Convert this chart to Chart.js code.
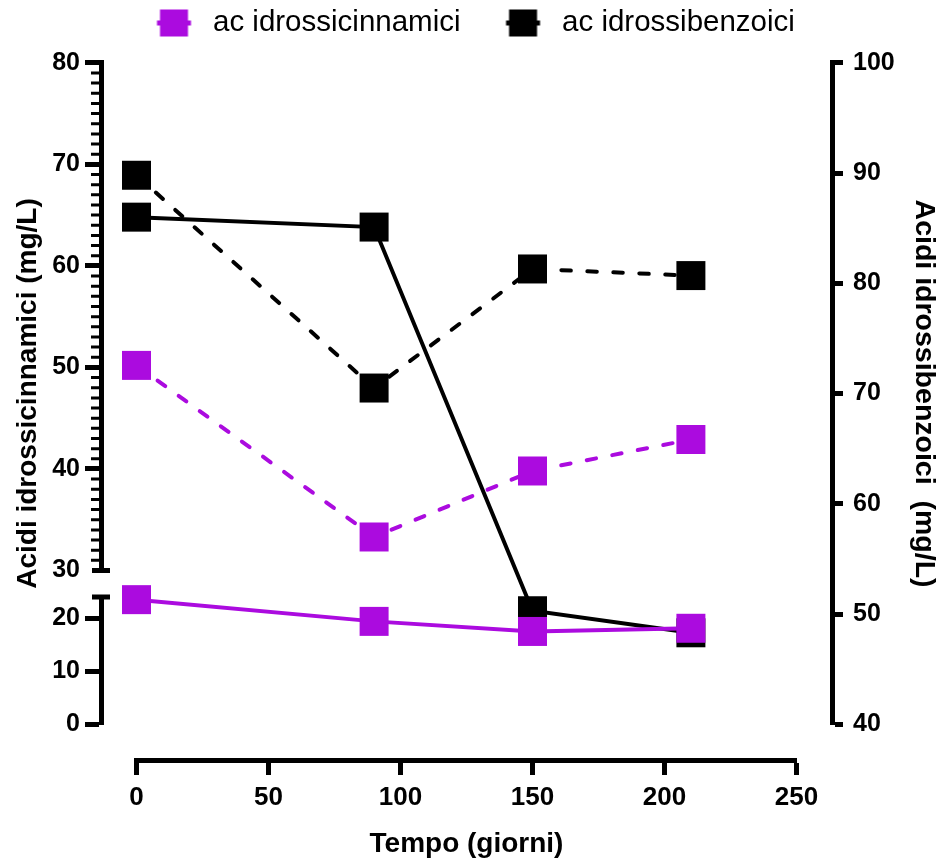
<!DOCTYPE html>
<html lang="it">
<head>
<meta charset="UTF-8">
<title>Acidi idrossicinnamici e idrossibenzoici</title>
<style>
  body { margin: 0; background: #fff; }
  .wrap { width: 942px; height: 861px; }
</style>
</head>
<body>
<div class="wrap"><canvas id="chart"></canvas></div>
<script src="https://cdn.jsdelivr.net/npm/chart.js@4.4.0/dist/chart.umd.min.js"></script>
<script>
// sampling days
const days = [0, 90, 150, 210];

// acidi idrossicinnamici, mg/L (left, broken axis)
const cinnamiciSolid = [23.5, 19.4, 17.5, 18.1];
const cinnamiciDashed = [50.2, 33.3, 39.8, 42.9];

// acidi idrossibenzoici, mg/L (right axis)
const benzoiciSolid = [86.0, 85.1, 50.3, 48.3];
const benzoiciDashed = [89.8, 70.5, 81.3, 80.7];

// tick values
const xTicks = [0, 50, 100, 150, 200, 250];
const leftTopTicks = [30, 40, 50, 60, 70, 80];
const leftBottomTicks = [0, 10, 20];
const leftBottomMax = 24;
const rightTicks = [40, 50, 60, 70, 80, 90, 100];

const labels = ['ac idrossicinnamici', 'ac idrossibenzoici'];
const leftTitle = 'Acidi idrossicinnamici (mg/L)';
const rightTitle = 'Acidi idrossibenzoici  (mg/L)';

const PURPLE = '#ab0bdf';
const FONT = "'Liberation Sans', Arial, sans-serif";

// box sizes of the three axis stacks
const LEFT_W = 101, RIGHT_W = 82.6, BOTTOM_H = 101;

const pts = arr => arr.map((v, i) => ({ x: days[i], y: v }));
const setTicks = list => scale => { scale.ticks = list.map(v => ({ value: v })); };

// legend marker: short line with a square on it
function legendMarker(color) {
  const c = document.createElement('canvas');
  c.width = 79; c.height = 30;
  const g = c.getContext('2d');
  const cx = 54.5, cy = 15;
  g.fillStyle = color;
  g.fillRect(cx - 17, cy - 2.5, 34, 5);
  g.fillRect(cx - 14, cy - 13.5, 28, 27);
  return c;
}
const markers = [legendMarker(PURPLE), legendMarker('#000')];

// empty stacked scale used only to hold space
const spacer = (pos, stack, weight, stackWeight, size) => ({
  type: 'linear', position: pos, stack, weight, stackWeight,
  min: 0, max: 1,
  afterFit: s => { if (pos === 'bottom') s.height = size; else s.width = size; },
  grid: { display: false, drawTicks: false },
  border: { display: false },
  ticks: { display: false }
});

const axisGrid = len => ({
  drawOnChartArea: false, tickLength: len, tickWidth: 5, tickColor: '#000'
});
const axisBorder = { display: true, width: 5, color: '#000' };

// minor ticks, break caps and the title of the broken left axis
const brokenAxis = {
  id: 'brokenAxis',
  afterDraw(chart) {
    const { ctx, chartArea, scales } = chart;
    const top = scales.yTop, bot = scales.yBot;
    const x0 = chartArea.left;
    ctx.save();
    ctx.strokeStyle = '#000';
    ctx.lineWidth = 3;
    ctx.beginPath();
    for (let v = top.min + 1; v < top.max; v++) {
      if (v % 10 === 0) continue;
      const y = top.getPixelForValue(v);
      ctx.moveTo(x0 - 10, y);
      ctx.lineTo(x0, y);
    }
    ctx.stroke();

    ctx.lineWidth = 5;
    ctx.beginPath();
    [top.getPixelForValue(top.min), bot.getPixelForValue(bot.max)].forEach(y => {
      ctx.moveTo(x0 - 9, y);
      ctx.lineTo(x0 + 9, y);
    });
    ctx.stroke();

    ctx.fillStyle = '#000';
    ctx.font = 'bold 28px ' + FONT;
    ctx.textAlign = 'center';
    ctx.textBaseline = 'middle';
    ctx.translate(28.5, (top.top + bot.bottom) / 2);
    ctx.rotate(-Math.PI / 2);
    ctx.fillText(leftTitle, 0, 0);
    ctx.restore();
  }
};

const lineSet = (label, data, color, axis, dashed) => ({
  label,
  data: pts(data),
  yAxisID: axis,
  xAxisID: 'x',
  clip: false,
  borderColor: color,
  backgroundColor: color,
  borderWidth: 4,
  borderDash: dashed ? [9.5, 16.5] : [],
  borderCapStyle: dashed ? 'round' : 'butt',
  pointStyle: 'rect',
  pointRadius: 20.5,
  pointHoverRadius: 20.5,
  pointBorderWidth: 0,
  pointBackgroundColor: color,
  tension: 0
});

new Chart(document.getElementById('chart'), {
  type: 'line',
  data: {
    datasets: [
      lineSet(labels[0], cinnamiciSolid, PURPLE, 'yBot', false),
      lineSet(labels[1], benzoiciSolid, '#000', 'y2', false),
      lineSet(labels[0], cinnamiciDashed, PURPLE, 'yTop', true),
      lineSet(labels[1], benzoiciDashed, '#000', 'y2', true)
    ]
  },
  options: {
    responsive: true,
    maintainAspectRatio: false,
    animation: false,
    layout: { padding: { left: 0, right: 27.4, top: 0, bottom: 0 } },
    plugins: {
      tooltip: { enabled: false },
      legend: {
        position: 'top',
        labels: {
          usePointStyle: true,
          pointStyleWidth: 78.5,
          padding: 8.25,
          color: '#000',
          font: { family: FONT, size: 29.5 },
          generateLabels(chart) {
            const items = Chart.defaults.plugins.legend.labels.generateLabels(chart);
            return items.filter(it => it.datasetIndex < 2)
              .map(it => Object.assign(it, { pointStyle: markers[it.datasetIndex] }));
          }
        }
      }
    },
    scales: {
      xPadL: spacer('bottom', 'xs', 1, 35.5, BOTTOM_H),
      x: {
        type: 'linear', position: 'bottom', stack: 'xs', weight: 2, stackWeight: 660,
        min: 0, max: 250,
        afterBuildTicks: setTicks(xTicks),
        afterFit: s => { s.height = BOTTOM_H; },
        grid: axisGrid(15),
        border: axisBorder,
        ticks: { color: '#000', padding: 7, maxRotation: 0, autoSkip: false,
                 font: { family: FONT, size: 26, weight: 'bold' } },
        title: { display: true, text: 'Tempo (giorni)', color: '#000',
                 padding: { top: 0, bottom: 0 },
                 font: { family: FONT, size: 28, weight: 'bold' } }
      },
      xPadR: spacer('bottom', 'xs', 3, 35.5, BOTTOM_H),

      yPadTop: spacer('left', 'ls', 5, 15.05, LEFT_W),
      yTop: {
        type: 'linear', position: 'left', stack: 'ls', weight: 4, stackWeight: 507.7,
        min: 30, max: 80,
        afterBuildTicks: setTicks(leftTopTicks),
        afterFit: s => { s.width = LEFT_W; },
        grid: Object.assign(axisGrid(16), {
          tickColor: c => (c.tick && c.tick.value === 30 ? 'rgba(0,0,0,0)' : '#000')
        }),
        border: axisBorder,
        ticks: { color: '#000', padding: 5, autoSkip: false,
                 font: { family: FONT, size: 25, weight: 'bold' } }
      },
      yGap: spacer('left', 'ls', 3, 26.5, LEFT_W),
      yBot: {
        type: 'linear', position: 'left', stack: 'ls', weight: 2, stackWeight: 127.2,
        min: 0, max: leftBottomMax,
        afterBuildTicks: setTicks(leftBottomTicks),
        afterFit: s => { s.width = LEFT_W; },
        grid: axisGrid(16),
        border: axisBorder,
        ticks: { color: '#000', padding: 5, autoSkip: false,
                 font: { family: FONT, size: 25, weight: 'bold' } }
      },
      yPadBot: spacer('left', 'ls', 1, 35.8, LEFT_W),

      y2PadTop: spacer('right', 'rs', 1, 15.05, RIGHT_W),
      y2: {
        type: 'linear', position: 'right', stack: 'rs', weight: 2, stackWeight: 661.5,
        min: 40, max: 100,
        afterBuildTicks: setTicks(rightTicks),
        afterFit: s => { s.width = RIGHT_W; },
        grid: axisGrid(11),
        border: axisBorder,
        ticks: { color: '#000', padding: 10, autoSkip: false,
                 font: { family: FONT, size: 25, weight: 'bold' } },
        title: { display: true, text: rightTitle, color: '#000',
                 padding: { top: -26, bottom: 0 },
                 font: { family: FONT, size: 28.5, weight: 'bold' } }
      },
      y2PadBot: spacer('right', 'rs', 3, 35.7, RIGHT_W)
    }
  },
  plugins: [brokenAxis]
});
</script>
</body>
</html>
